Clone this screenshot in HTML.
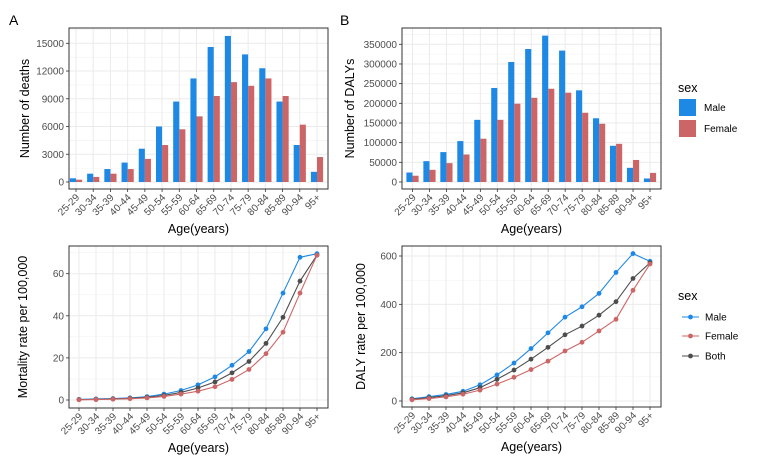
<!DOCTYPE html>
<html><head><meta charset="utf-8"><style>
body{margin:0;background:#fff;}
svg{display:block;font-family:"Liberation Sans",sans-serif;}
</style></head><body>
<svg id="c" width="758" height="459" xmlns="http://www.w3.org/2000/svg"></svg>
<script>
const categories=["25-29","30-34","35-39","40-44","45-49","50-54","55-59","60-64","65-69","70-74","75-79","80-84","85-89","90-94","95+"];
const deathsMale=[400,900,1400,2100,3600,6000,8700,11200,14600,15800,13800,12300,8700,4000,1100];
const deathsFemale=[250,550,900,1400,2500,4000,5700,7100,9300,10800,10400,11200,9300,6200,2700];
const dalysMale=[24000,53000,76000,104000,158000,239000,305000,338000,372000,334000,233000,162000,92000,36000,9000];
const dalysFemale=[16000,31000,48000,70000,110000,158000,199000,214000,237000,227000,176000,148000,97000,56000,23000];
const mortMale=[0.3,0.5,0.7,1.0,1.6,2.8,4.5,7.2,11,16.5,23,33.8,50.8,67.8,69.5];
const mortFemale=[0.1,0.2,0.4,0.6,1.0,1.7,2.8,4.2,6.3,9.8,14.5,22,32.2,50.8,68.8];
const mortBoth=[0.2,0.3,0.5,0.8,1.3,2.2,3.6,5.7,8.6,12.9,18.3,26.9,39.3,56.5,68.8];
const dalyRateMale=[9,18,27,40,67,108,157,217,282,347,390,445,532,610,578];
const dalyRateFemale=[5,10,17,28,45,70,98,130,165,207,243,290,338,458,567];
const dalyRateBoth=[7,14,22,34,55,90,128,173,222,274,310,355,411,507,572];
const ticksA=[0,3000,6000,9000,12000,15000];
const ticksB=[0,50000,100000,150000,200000,250000,300000,350000];
const ticksC=[0,20,40,60];
const ticksD=[0,200,400,600];
const BLUE="#1E88E5",RED="#CC6666",DARK="#4d4d4d";
const svg=document.getElementById('c');
const NS="http://www.w3.org/2000/svg";
function el(t,a,p){const e=document.createElementNS(NS,t);for(const k in a)e.setAttribute(k,a[k]);(p||svg).appendChild(e);return e;}
function txt(s,a,p){const e=el('text',a,p);e.textContent=s;return e;}

function panel(name,box,x0,x1,y0px,topV,topPx,ticks,ytitle){
  const g=el('g',{});
  
  
  const xs=i=>x0+(x1-x0)*i/(categories.length-1);
  const ys=v=>y0px-(y0px-topPx)*v/topV;
  for(let i=0;i<ticks.length;i++){
    const mid=ticks[i]+(ticks[1]-ticks[0])/2; const yy=ys(mid);
    if(yy>box.y) el('line',{x1:box.x,x2:box.x+box.w,y1:yy,y2:yy,stroke:"#f2f2f2","stroke-width":0.6},g);
  }
  ticks.forEach(t=>{const yy=ys(t);
    el('line',{x1:box.x,x2:box.x+box.w,y1:yy,y2:yy,stroke:"#ebebeb","stroke-width":1},g);
    el('line',{x1:box.x-3,x2:box.x,y1:yy,y2:yy,stroke:"#333","stroke-width":0.8},g);
    const l=txt(String(t),{x:box.x-5,y:yy+3.5,"text-anchor":"end","font-size":10,fill:DARK},g);
    
    
  });
  categories.forEach((c,i)=>{const xx=xs(i);
    el('line',{x1:xx,x2:xx,y1:box.y,y2:box.y+box.h,stroke:"#ebebeb","stroke-width":1},g);
    el('line',{x1:xx,x2:xx,y1:box.y+box.h,y2:box.y+box.h+3,stroke:"#333","stroke-width":0.8},g);
    const l=txt(c,{x:xx+4,y:box.y+box.h+9,"text-anchor":"end","font-size":10,fill:DARK,transform:`rotate(-45 ${xx+4} ${box.y+box.h+9})`},g);
    
    
  });
  const xt=txt("Age(years)",{x:box.x+box.w/2,y:box.y+box.h+44,"text-anchor":"middle","font-size":12.5,fill:"#000"},g);
  
  
  const yx=box.x-(ytitle.w);
  const yt=txt(ytitle.t,{x:yx,y:box.y+box.h/2,"text-anchor":"middle","font-size":12.5,fill:"#000",transform:`rotate(-90 ${yx} ${box.y+box.h/2})`},g);
  
  
  return {g,xs,ys,box};
}
function frame(p){el('rect',{x:p.box.x,y:p.box.y,width:p.box.w,height:p.box.h,fill:"none",stroke:"#333","stroke-width":1},p.g);}
function bars(p,m,f){
  const bw=6.1;
  categories.forEach((c,i)=>{
    const xx=p.xs(i);
    const b1=el('rect',{x:xx-bw,y:p.ys(m[i]),width:bw,height:p.ys(0)-p.ys(m[i]),fill:BLUE},p.g);
    
    
    const b2=el('rect',{x:xx,y:p.ys(f[i]),width:bw,height:p.ys(0)-p.ys(f[i]),fill:RED},p.g);
    
    
  });
}
function line(p,arr,col,nm){
  const pts=arr.map((v,i)=>p.xs(i)+","+p.ys(v)).join(" ");
  const pl=el('polyline',{points:pts,fill:"none",stroke:col,"stroke-width":1.1},p.g);
  
  
  arr.forEach((v,i)=>{const c=el('circle',{cx:p.xs(i),cy:p.ys(v),r:2.4,fill:col},p.g);
    
    });
}
const pA=panel('panel-a-deaths',{x:69,y:28,w:259,h:161},76,317,182,15000,43.3,ticksA,{t:"Number of deaths",w:40});
bars(pA,deathsMale,deathsFemale);frame(pA);
const pB=panel('panel-b-dalys',{x:62,y:28,w:259,h:161},72.5,310,182,350000,44.3,ticksB,{t:"Number of DALYs",w:48});
pB.g.setAttribute('transform','translate(340,0)');
bars(pB,dalysMale,dalysFemale);frame(pB);
const pC=panel('panel-c-mortality-rate',{x:69,y:246,w:259,h:162},79,317,400,60,273.7,ticksC,{t:"Mortality rate per 100,000",w:42});
line(pC,mortMale,BLUE,'male');line(pC,mortBoth,DARK,'both');line(pC,mortFemale,RED,'female');frame(pC);
const pD=panel('panel-d-daly-rate',{x:402,y:246,w:259,h:161},412,650,401,600,256,ticksD,{t:"DALY rate per 100,000",w:37});
line(pD,dalyRateMale,BLUE,'male');line(pD,dalyRateBoth,DARK,'both');line(pD,dalyRateFemale,RED,'female');frame(pD);
let t=txt("A",{x:9,y:25,"font-size":14,fill:"#000"});
t=txt("B",{x:340,y:25,"font-size":14,fill:"#000"});
const lg1=el('g',{});


txt("sex",{x:678,y:92,"font-size":12.5,fill:"#000"},lg1);
el('rect',{x:679,y:99,width:17,height:17,fill:BLUE},lg1);
txt("Male",{x:704,y:111,"font-size":10,fill:"#000"},lg1);
el('rect',{x:679,y:120,width:17,height:17,fill:RED},lg1);
txt("Female",{x:704,y:132,"font-size":10,fill:"#000"},lg1);
const lg2=el('g',{});


txt("sex",{x:678,y:300,"font-size":12.5,fill:"#000"},lg2);
[["Male",BLUE,317],["Female",RED,336],["Both",DARK,356]].forEach(([n,c,y])=>{
  el('line',{x1:682,x2:699,y1:y,y2:y,stroke:c,"stroke-width":1.1},lg2);
  el('circle',{cx:690.5,cy:y,r:2.4,fill:c},lg2);
  txt(n,{x:705,y:y+3.5,"font-size":10,fill:"#000"},lg2);
});
</script>
</body></html>
